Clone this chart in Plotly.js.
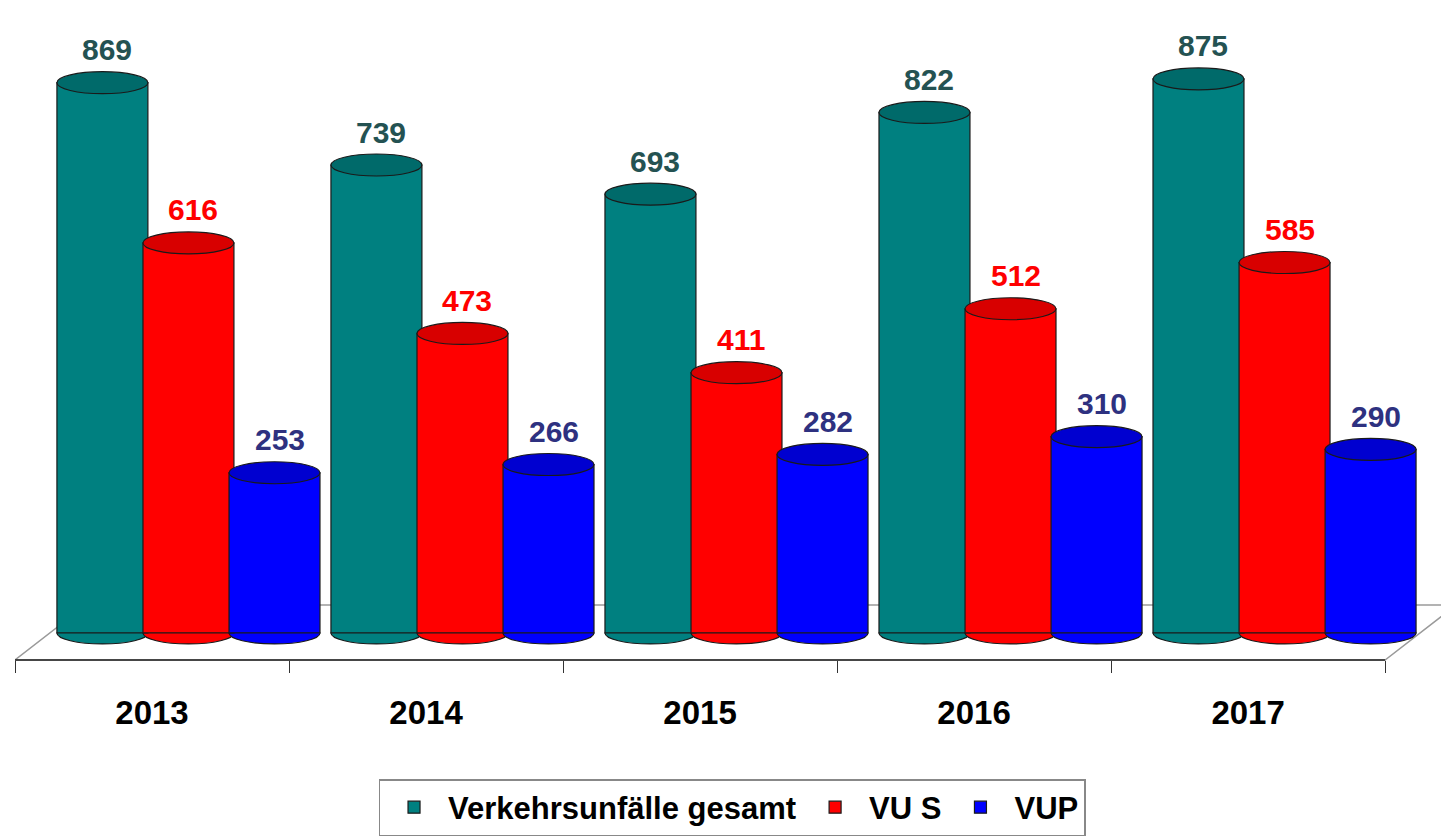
<!DOCTYPE html>
<html>
<head>
<meta charset="utf-8">
<script src="https://cdn.plot.ly/plotly-3.0.1.min.js"></script>
<style>
html,body{margin:0;padding:0;background:#fff;}
#chart{width:1441px;height:836px;}
</style>
</head>
<body>
<div id="chart"></div>
<script>
// ---- data ----
const years = ['2013', '2014', '2015', '2016', '2017'];
const gesamt = [869, 739, 693, 822, 875];
const vuS = [616, 473, 411, 512, 585];
const vup = [253, 266, 282, 310, 290];

const seriesNames = ['Verkehrsunfälle gesamt', 'VU S', 'VUP'];
const seriesValues = [gesamt, vuS, vup];
const seriesColors = ['#008080', '#FF0000', '#0000FF'];
const topColors = ['#006a6a', '#d80000', '#0000d0'];
const labelColors = ['#245252', '#FF0000', '#2e3180'];
const offsets = [-0.347, -0.033, 0.281];
const barWidth = 0.332;

const FONT = 'Liberation Sans, Arial, sans-serif';

const traces = seriesValues.map((vals, i) => ({
  type: 'bar',
  name: seriesNames[i],
  x: years,
  y: vals,
  offset: offsets[i],
  width: barWidth,
  marker: {color: seriesColors[i], line: {color: '#1a1a1a', width: 1.2}},
  hoverinfo: 'x+y+name'
}));

const shapes = [];
// floor (3D base plane), in axis units of the category axis
shapes.push({
  type: 'path', xref: 'x', yref: 'paper', layer: 'below',
  path: 'M -0.5 0 L -0.241 0.086 L 4.76 0.086 L 4.5 0 Z',
  fillcolor: 'rgba(255,255,255,0)', line: {color: '#9a9a9a', width: 1.5}
});
// x axis line ending at the last category boundary
shapes.push({
  type: 'line', xref: 'x', yref: 'paper', layer: 'above',
  x0: -0.5, x1: 4.5, y0: 0, y1: 0, line: {color: '#222', width: 1.5}
});
// cylinder ends computed from the data
seriesValues.forEach((vals, i) => {
  vals.forEach((v, j) => {
    const x0 = j + offsets[i], x1 = x0 + barWidth;
    shapes.push({
      type: 'circle', xref: 'x', yref: 'y', layer: 'below',
      x0: x0, x1: x1, ysizemode: 'pixel', yanchor: 0, y0: -11, y1: 11,
      fillcolor: seriesColors[i], line: {color: '#1a1a1a', width: 1.2}
    });
    shapes.push({
      type: 'circle', xref: 'x', yref: 'y', layer: 'above',
      x0: x0, x1: x1, ysizemode: 'pixel', yanchor: v, y0: -11, y1: 11,
      fillcolor: topColors[i], line: {color: '#1a1a1a', width: 1.2}
    });
  });
});

const annotations = [];
seriesValues.forEach((vals, i) => {
  vals.forEach((v, j) => {
    annotations.push({
      x: j + offsets[i] + barWidth / 2, y: v, xref: 'x', yref: 'y',
      text: String(v), showarrow: false, yanchor: 'middle', yshift: 33, xshift: 5,
      font: {family: FONT, size: 30, color: labelColors[i], weight: 'bold'}
    });
  });
});

const layout = {
  width: 1441, height: 836,
  margin: {l: 15, r: 0, t: 20, b: 176},
  paper_bgcolor: '#ffffff', plot_bgcolor: 'rgba(0,0,0,0)',
  barmode: 'overlay',
  showlegend: true,
  xaxis: {
    type: 'category', range: [-0.5, 4.704],
    tickson: 'boundaries', ticks: 'outside', ticklen: 12, tickcolor: '#333',
    showline: false, showgrid: false, zeroline: false,
    ticklabelstandoff: 30,
    tickfont: {family: FONT, size: 33, color: '#000', weight: 'bold'}
  },
  yaxis: {
    range: [-42.7, 968], visible: false, showgrid: false, zeroline: false
  },
  legend: {
    orientation: 'h', xref: 'container', yref: 'container',
    x: 0.508, xanchor: 'center', y: 0, yanchor: 'bottom',
    bordercolor: '#888', borderwidth: 1.5, bgcolor: '#fff',
    font: {family: FONT, size: 31, color: '#000', weight: 'bold'},
    itemwidth: 58
  },
  shapes: shapes,
  annotations: annotations
};

Plotly.newPlot('chart', traces, layout, {displayModeBar: false, staticPlot: true});
</script>
</body>
</html>
